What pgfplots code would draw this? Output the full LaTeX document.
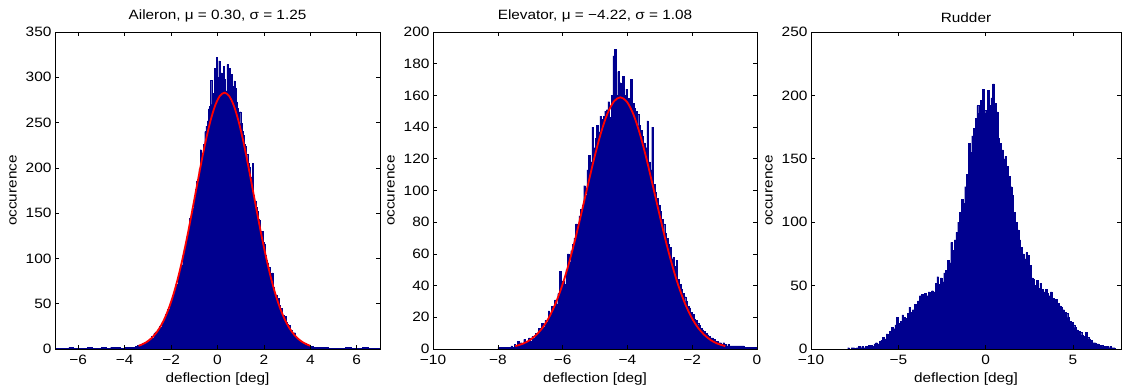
\documentclass[border=0pt]{standalone}
\usepackage{fontspec}
\setmainfont{Liberation Sans}[FakeStretch=1.14]
\usepackage{pgfplots}
\pgfplotsset{compat=1.18}
\definecolor{hb}{RGB}{0,0,143}
\pgfplotsset{mstyle/.style={scale only axis, height=317bp, anchor=south west,
  axis line style={line width=0.7bp, black}, tick align=inside, major tick length=4bp,
  tick style={line width=0.6bp, black}, ymin=0,
  /pgf/number format/assume math mode=true,
  ticklabel style={font=\fontsize{13.6}{15}\selectfont},
  xticklabel style={yshift=-3bp},
  label style={font=\fontsize{13.5}{15}\selectfont},
  title style={font=\fontsize{13.5}{15}\selectfont, yshift=0bp},
  xlabel={deflection [deg]}, ylabel={occurence},
  xlabel style={yshift=-1bp}, ylabel style={yshift=2bp},
  axis on top, clip=true},
  hist/.style={const plot mark left, fill=hb, draw=hb, line width=0.3bp},
  fit/.style={red, line width=1.8bp, smooth, no marks}}
\begin{document}
\begin{tikzpicture}
\useasboundingbox (0,0) rectangle (1122bp,390bp);
% ---------------- Aileron
\begin{axis}[mstyle, at={(55bp,41bp)}, width=325bp, xmin=-7, xmax=7, ymax=350,
  xtick={-6,-4,-2,0,2,4,6}, xticklabels={−6,−4,−2,0,2,4,6},
  ytick={0,50,100,150,200,250,300,350},
  title={Aileron, μ = 0.30, σ = 1.25}]
\addplot[hist] coordinates {
(-7.0,1)(-6.8,1)(-6.6,1)(-6.4,2)(-6.2,1)(-6.0,1)(-5.8,1)(-5.6,2)(-5.4,1)(-5.2,1)
(-5.0,2)(-4.8,1)(-4.6,2)(-4.4,2)(-4.2,1)(-4.0,2)(-3.8,2)
(-3.60,2)(-3.55,3)(-3.50,2)(-3.45,4)(-3.40,3)(-3.35,5)(-3.30,4)(-3.25,6)(-3.20,5)(-3.15,7)
(-3.10,6)(-3.05,9)(-3.00,8)(-2.95,11)(-2.90,10)(-2.85,14)(-2.80,12)(-2.75,17)(-2.70,19)(-2.65,16)
(-2.60,21)(-2.55,20)(-2.50,25)(-2.45,24)(-2.40,30)(-2.35,28)(-2.30,34)(-2.25,38)(-2.20,37)(-2.15,44)
(-2.10,43)(-2.05,50)(-2.00,55)(-1.95,54)(-1.90,63)(-1.85,66)(-1.80,72)(-1.75,70)(-1.70,82)(-1.65,86)
(-1.60,92)(-1.55,93)(-1.50,104)(-1.45,110)(-1.40,115)(-1.35,124)(-1.30,127)(-1.25,133)(-1.20,144)(-1.15,147)
(-1.10,155)(-1.05,154)(-1.00,170)(-0.95,176)(-0.90,185)(-0.85,181)(-0.80,199)(-0.75,220)(-0.70,210)(-0.65,216)
(-0.60,226)(-0.55,240)(-0.50,246)(-0.45,252)(-0.40,265)(-0.35,268)(-0.30,297)(-0.25,270)(-0.20,282)(-0.15,310)
(-0.10,285)(-0.05,322)(0.00,300)(0.05,318)(0.10,290)(0.15,305)(0.20,295)(0.25,312)(0.30,298)(0.35,285)
(0.40,314)(0.45,300)(0.50,310)(0.55,292)(0.60,303)(0.65,290)(0.70,296)(0.75,288)(0.80,273)(0.85,266)
(0.90,258)(0.95,262)(1.00,249)(1.05,240)(1.10,236)(1.15,226)(1.20,224)(1.25,215)(1.30,205)(1.35,201)
(1.40,190)(1.45,188)(1.50,205)(1.55,170)(1.60,163)(1.65,157)(1.70,152)(1.75,143)(1.80,142)(1.85,130)
(1.90,130)(1.95,118)(2.00,116)(2.05,104)(2.10,98)(2.15,95)(2.20,90)(2.25,84)(2.30,78)(2.35,84)
(2.40,68)(2.45,63)(2.50,60)(2.55,55)(2.60,56)(2.65,48)(2.70,44)(2.75,45)(2.80,37)(2.85,36)
(2.90,36)(2.95,30)(3.00,27)(3.05,26)(3.10,26)(3.15,21)(3.20,18)(3.25,17)(3.30,18)(3.35,14)
(3.40,12)(3.45,11)(3.50,10)(3.55,9)(3.60,8)(3.65,7)(3.70,6)(3.75,6)(3.80,5)(3.85,4)
(3.90,4)(3.95,3)(4.00,3)(4.05,3)(4.10,2)(4.15,2)(4.20,2)
(4.25,2)(4.5,2)(4.75,1)(5.0,1)(5.25,1)(5.5,2)(5.75,1)(6.0,1)(6.25,2)(6.5,1)(6.75,1)(7.0,1)
} \closedcycle;
\addplot[fit] coordinates {
(-3.4,3.5)(-3.3,4.5)(-3.1,7.0)(-2.9,10.7)(-2.7,15.9)(-2.5,23.0)(-2.3,32.5)(-2.1,44.8)(-1.9,60.1)
(-1.7,78.7)(-1.5,100.3)(-1.3,124.7)(-1.1,151.2)(-0.9,178.5)(-0.7,205.5)(-0.5,230.6)(-0.3,252.2)
(-0.1,268.9)(0.1,279.4)(0.3,283)(0.5,279.4)(0.7,268.9)(0.9,252.2)(1.1,230.6)(1.3,205.5)(1.5,178.5)
(1.7,151.2)(1.9,124.7)(2.1,100.3)(2.3,78.7)(2.5,60.1)(2.7,44.8)(2.9,32.5)(3.1,23.0)(3.3,15.9)
(3.5,10.7)(3.7,7.0)(3.9,4.5)(4.0,3.5)};
\end{axis}
% ---------------- Elevator
\begin{axis}[mstyle, at={(433bp,41bp)}, width=324bp, xmin=-10, xmax=0, ymax=200,
  xtick={-10,-8,-6,-4,-2,0}, xticklabels={−10,−8,−6,−4,−2,0},
  ytick={0,20,40,60,80,100,120,140,160,180,200},
  title={Elevator, μ = −4.22, σ = 1.08}]
\addplot[hist] coordinates {
(-8.0,1)(-7.8,1)
(-7.60,2)(-7.55,1)(-7.50,3)(-7.45,2)(-7.40,5)(-7.35,3)(-7.30,4)(-7.25,3)(-7.20,6)(-7.15,4)
(-7.10,5)(-7.05,7)(-7.00,5)(-6.95,8)(-6.90,7)(-6.85,10)(-6.80,9)(-6.75,13)(-6.70,11)(-6.65,16)
(-6.60,14)(-6.55,18)(-6.50,17)(-6.45,24)(-6.40,21)(-6.35,27)(-6.30,25)(-6.25,31)(-6.20,28)(-6.15,35)
(-6.10,49)(-6.05,38)(-6.00,43)(-5.95,41)(-5.90,50)(-5.85,60)(-5.80,55)(-5.75,62)(-5.70,66)(-5.65,70)
(-5.60,79)(-5.55,76)(-5.50,84)(-5.45,88)(-5.40,91)(-5.35,103)(-5.30,97)(-5.25,113)(-5.20,122)(-5.15,118)
(-5.10,140)(-5.05,127)(-5.00,133)(-4.95,141)(-4.90,137)(-4.85,147)(-4.80,145)(-4.75,147)(-4.70,150)(-4.65,151)
(-4.60,156)(-4.55,146)(-4.50,160)(-4.45,185)(-4.40,189)(-4.35,160)(-4.30,175)(-4.25,168)(-4.20,155)(-4.15,172)
(-4.10,160)(-4.05,164)(-4.00,158)(-3.95,148)(-3.90,170)(-3.85,155)(-3.80,152)(-3.75,150)(-3.70,148)(-3.65,141)
(-3.60,138)(-3.55,134)(-3.50,130)(-3.45,127)(-3.40,144)(-3.35,118)(-3.30,113)(-3.25,140)(-3.20,104)(-3.15,99)
(-3.10,95)(-3.05,91)(-3.00,87)(-2.95,82)(-2.90,79)(-2.85,73)(-2.80,70)(-2.75,66)(-2.70,64)(-2.65,57)
(-2.60,58)(-2.55,52)(-2.50,56)(-2.45,44)(-2.40,41)(-2.35,38)(-2.30,35)(-2.25,33)(-2.20,30)(-2.15,27)
(-2.10,26)(-2.05,23)(-2.00,22)(-1.95,19)(-1.90,18)(-1.85,16)(-1.80,15)(-1.75,13)(-1.70,12)(-1.65,11)
(-1.60,10)(-1.55,9)(-1.50,8)(-1.45,7)(-1.40,7)(-1.35,6)(-1.30,5)(-1.25,5)(-1.20,4)(-1.15,4)
(-1.10,3)(-1.05,4)(-1.00,3)(-0.95,2)(-0.90,3)(-0.85,2)
(-0.80,2)(-0.60,2)(-0.40,1)(-0.20,1)(0,1)
} \closedcycle;
\addplot[fit] coordinates {
(-7.46,1.8)(-7.22,3.4)(-7.02,5.5)(-6.82,8.8)(-6.62,13.4)(-6.42,19.9)(-6.22,28.6)(-6.02,39.6)
(-5.82,53.0)(-5.62,68.5)(-5.42,85.7)(-5.22,103.4)(-5.02,120.7)(-4.82,136.1)(-4.62,148.3)(-4.42,156.1)
(-4.22,158.8)(-4.02,156.1)(-3.82,148.3)(-3.62,136.1)(-3.42,120.7)(-3.22,103.4)(-3.02,85.7)(-2.82,68.5)
(-2.62,53.0)(-2.42,39.6)(-2.22,28.6)(-2.02,19.9)(-1.82,13.4)(-1.62,8.8)(-1.42,5.5)(-1.22,3.4)(-0.98,1.8)};
\end{axis}
% ---------------- Rudder
\begin{axis}[mstyle, at={(811bp,41bp)}, width=310bp, xmin=-10, xmax=7.75, ymax=250,
  xtick={-10,-5,0,5}, xticklabels={−10,−5,0,5},
  ytick={0,50,100,150,200,250},
  title={Rudder}]
\addplot[hist] coordinates {
(-8.0,0)(-7.9,1)(-7.8,0)(-7.7,1)(-7.6,1)(-7.5,0)(-7.4,1)(-7.3,2)(-7.2,1)(-7.1,2)
(-7.0,1)(-6.9,2)(-6.8,2)(-6.7,3)(-6.6,3)(-6.5,2)(-6.4,4)(-6.3,5)(-6.2,4)(-6.1,6)
(-6.0,7)(-5.9,9)(-5.8,8)(-5.7,12)(-5.6,11)(-5.5,14)(-5.4,17)(-5.3,16)(-5.2,19)(-5.1,25)
(-5.0,20)(-4.9,22)(-4.8,27)(-4.7,25)(-4.6,24)(-4.5,28)(-4.4,33)(-4.3,29)(-4.2,31)(-4.1,35)
(-4.0,33)(-3.9,38)(-3.8,42)(-3.7,43)(-3.6,41)(-3.5,44)(-3.4,42)(-3.3,45)(-3.2,44)(-3.1,46)
(-3.0,45)(-2.9,52)(-2.8,57)(-2.7,51)(-2.6,56)(-2.5,53)(-2.4,60)(-2.3,62)(-2.2,70)(-2.1,68)
(-2.0,84)(-1.9,78)(-1.8,86)(-1.7,92)(-1.6,100)(-1.5,108)(-1.4,118)(-1.3,115)(-1.2,128)(-1.1,138)
(-1.0,162)(-0.9,155)(-0.8,168)(-0.7,174)(-0.6,182)(-0.5,192)(-0.4,186)(-0.3,196)(-0.2,205)(-0.1,188)
(0.0,186)(0.1,204)(0.2,192)(0.3,198)(0.4,209)(0.5,194)(0.6,187)(0.7,166)(0.8,162)(0.9,157)
(1.0,150)(1.1,152)(1.2,144)(1.3,136)(1.4,128)(1.5,121)(1.6,108)(1.7,100)(1.8,94)(1.9,86)
(2.0,80)(2.1,75)(2.2,71)(2.3,76)(2.4,74)(2.5,66)(2.6,56)(2.7,55)(2.8,50)(2.9,54)
(3.0,48)(3.1,52)(3.2,47)(3.3,45)(3.4,47)(3.5,44)(3.6,42)(3.7,45)(3.8,40)(3.9,38)
(4.0,39)(4.1,36)(4.2,34)(4.3,33)(4.4,31)(4.5,29)(4.6,28)(4.7,25)(4.8,22)(4.9,21)
(5.0,19)(5.1,17)(5.2,15)(5.3,14)(5.4,13)(5.5,11)(5.6,10)(5.7,13)(5.8,9)(5.9,8)
(6.0,7)(6.1,5)(6.2,5)(6.3,4)(6.4,4)(6.5,3)(6.6,3)(6.7,2)(6.8,2)(6.9,2)
(7.0,1)(7.1,2)(7.2,1)(7.3,1)(7.4,0)(7.5,0)
} \closedcycle;
\end{axis}
\end{tikzpicture}
\end{document}
